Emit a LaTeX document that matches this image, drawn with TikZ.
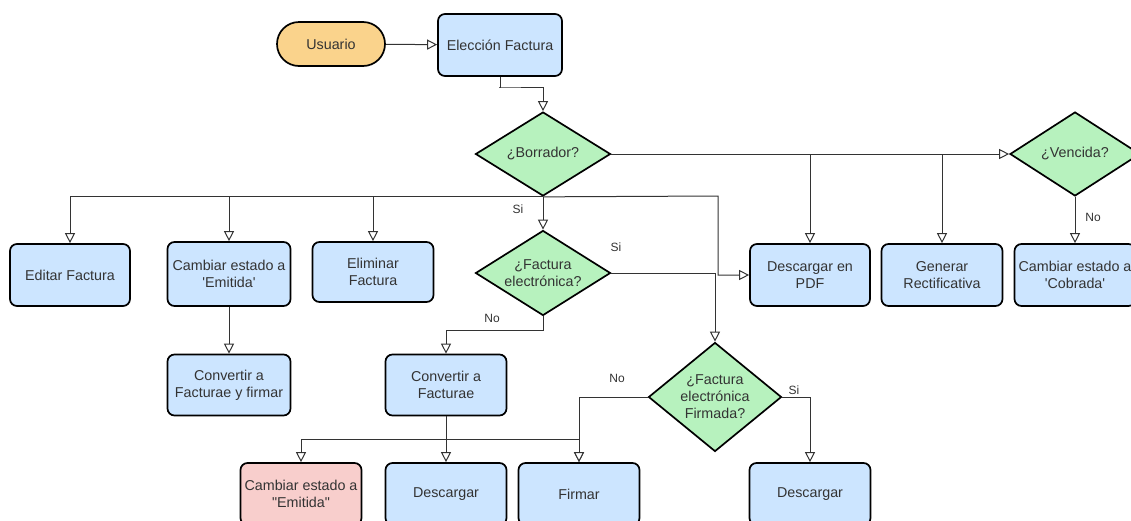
\documentclass[tikz,border=0pt]{standalone}
\usepackage{fontspec}
\setmainfont{Liberation Sans}[Ligatures=TeXOff]
\usetikzlibrary{arrows.meta,shapes.geometric}
\definecolor{bluef}{HTML}{CCE5FF}
\definecolor{greenf}{HTML}{B7F2BE}
\definecolor{orangef}{HTML}{FAD38C}
\definecolor{redf}{HTML}{F8CECC}
\definecolor{txt}{HTML}{333333}
\definecolor{ln}{HTML}{333333}
\begin{document}
\begin{tikzpicture}[x=1pt,y=-1pt,
 box/.style={draw=black,line width=1.7pt,rounded corners=7pt,fill=bluef,minimum width=121pt,minimum height=62pt,align=center,text=txt,font=\fontsize{14.3}{17}\selectfont,inner sep=1pt},
 dec/.style={diamond,draw=black,line width=1.7pt,fill=greenf,inner sep=0pt,align=center,text=txt,font=\fontsize{14.3}{17}\selectfont},
 arr/.style={draw=ln,line width=1pt,-{Triangle[fill=white,length=10pt,width=10pt]}},
 lbl/.style={text=txt,font=\fontsize{12}{14}\selectfont}]
\useasboundingbox (0,0) rectangle (1131,520);
\clip (0,0) rectangle (1131,520);
% nodes
\node[box,fill=orangef,rounded corners=22pt,minimum width=108pt,minimum height=44pt] (usuario) at (331,44) {Usuario};
\node[box,minimum width=124pt] (eleccion) at (500,45) {Elección Factura};
\node[dec,minimum width=135pt,minimum height=84pt,shape aspect=1.6] (borrador) at (543,154) {¿Borrador?};
\node[dec,minimum width=130pt,minimum height=84pt,shape aspect=1.55] (vencida) at (1075,154) {¿Vencida?};
\node[box,minimum width=120pt] (editar) at (70,275) {Editar Factura};
\node[box,minimum width=123pt,minimum height=64pt] (emitida) at (229,274) {Cambiar estado a\\'Emitida'};
\node[box,minimum height=60pt] (eliminar) at (373,272) {Eliminar\\Factura};
\node[box,minimum width=120pt] (pdf) at (810,275) {Descargar en\\PDF};
\node[box] (rect) at (942,275) {Generar\\Rectificativa};
\node[box] (cobrada) at (1075,275) {Cambiar estado a\\'Cobrada'};
\node[dec,minimum width=135pt,minimum height=85pt,shape aspect=1.59] (facelec) at (543,273) {¿Factura\\electrónica?};
\node[box,minimum width=123pt,minimum height=61pt] (firmaemit) at (229,385) {Convertir a\\Facturae y firmar};
\node[box,minimum height=61pt] (convertir) at (446,385) {Convertir a\\Facturae};
\node[dec,minimum width=133pt,minimum height=109pt,shape aspect=1.22] (firmada) at (715,397) {¿Factura\\electrónica\\Firmada?};
\node[box,fill=redf] (emitida2) at (301,494) {Cambiar estado a\\"Emitida"};
\node[box] (descargar1) at (446,494) {Descargar};
\node[box] (firmar) at (579,494) {Firmar};
\node[box] (descargar2) at (810,494) {Descargar};
% waypoints
\coordinate (j0) at (499,87);
\coordinate (j1) at (718,196);
\coordinate (j2) at (446,439);
\coordinate (j3) at (543,330);
% connectors
\draw[arr] (usuario) -- (eleccion);
\draw[arr] (eleccion.south) |- (j0) -| (borrador.north);
\draw[arr] (borrador.east) -- (vencida.west);
\draw[arr] (borrador.east) -| (pdf.north);
\draw[arr] (borrador.east) -| (rect.north);
\draw[arr] (borrador.south) -| (editar.north);
\draw[arr] (borrador.south) -| (emitida.north);
\draw[arr] (borrador.south) -| (eliminar.north);
\draw[arr] (borrador.south) -- (j1) |- (pdf.west);
\draw[arr] (borrador.south) -- (facelec.north);
\draw[arr] (vencida.south) -- (cobrada.north);
\draw[arr] (emitida.south) -- (firmaemit.north);
\draw[arr] (facelec.south) -- (j3) -| (convertir.north);
\draw[arr] (facelec.east) -| (firmada.north);
\draw[arr] (convertir.south) -- (descargar1.north);
\draw[arr] (j2) -| (emitida2.north);
\draw[arr] (j2) -| (firmar.north);
\draw[arr] (firmada.west) -| (firmar.north);
\draw[arr] (firmada.east) -| (descargar2.north);
% labels
\node[lbl] (lsi1) at (518,209) {Si};
\node[lbl] (lno1) at (1093,217) {No};
\node[lbl] (lsi2) at (616,247) {Si};
\node[lbl] (lno2) at (492,318) {No};
\node[lbl] (lno3) at (617,378) {No};
\node[lbl] (lsi3) at (794,390) {Si};
\end{tikzpicture}
\end{document}
